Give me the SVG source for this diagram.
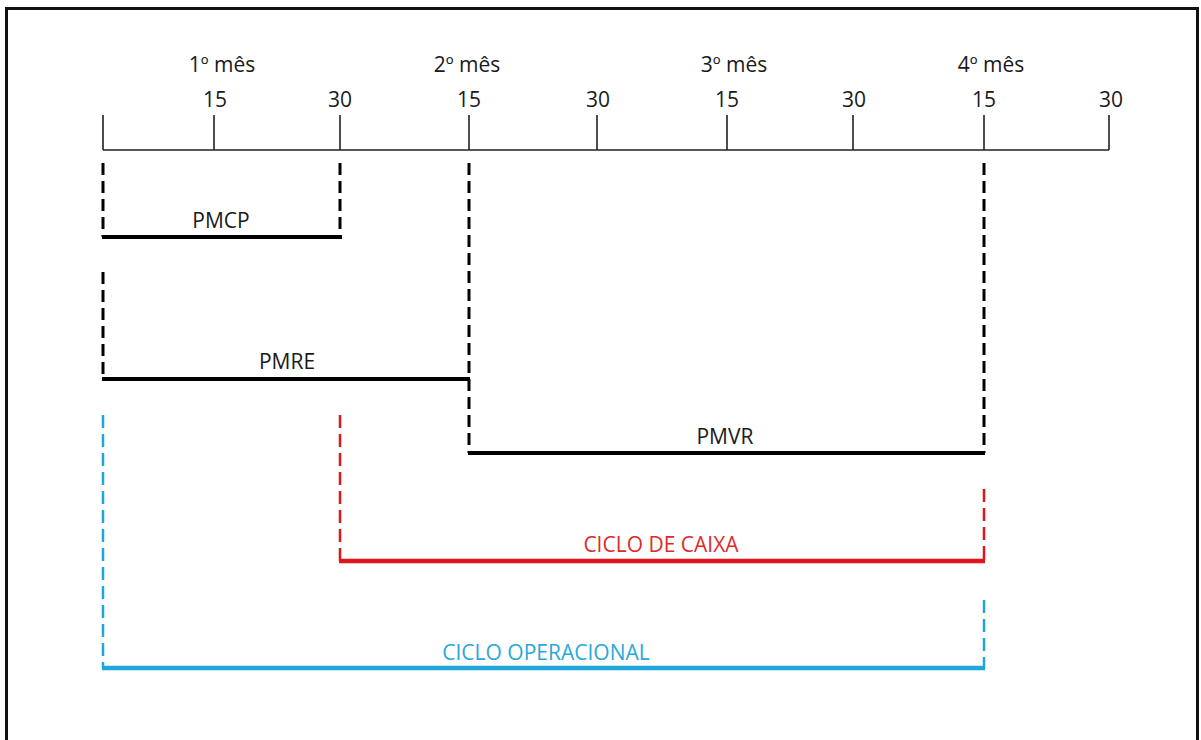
<svg xmlns="http://www.w3.org/2000/svg" width="1201" height="740" viewBox="0 0 1201 740">
<style>
text{font-family:"Open Sans","Liberation Sans",sans-serif;font-size:21px;fill:#1a1a1a;text-anchor:middle}
.tick{stroke:#222;stroke-width:1.6;fill:none}
.dk{stroke:#000;stroke-width:3;stroke-dasharray:12 6;fill:none}
.bar{stroke:#000;stroke-width:4;fill:none}
.rd{stroke:#e0141e;stroke-width:2.5;stroke-dasharray:13 6;fill:none}
.rbar{stroke:#e0141e;stroke-width:4.5;fill:none}
.bd{stroke:#1fa6da;stroke-width:2.5;stroke-dasharray:13 6;fill:none}
.bbar{stroke:#1fa6da;stroke-width:4.5;fill:none}
</style>
<rect x="0" y="0" width="1201" height="740" fill="#fff"/>
<rect x="6.5" y="8.5" width="1191" height="740" fill="none" stroke="#111" stroke-width="3"/>
<g id="axis">
<path class="tick" d="M103 150H1109M103 115V150M214 115V150M340 115V150M469 115V150M597 115V150M727 115V150M853 115V150M984 115V150M1109 115V150"/>
<text x="222" y="72">1º mês</text>
<text x="467" y="72">2º mês</text>
<text x="734" y="72">3º mês</text>
<text x="991" y="72">4º mês</text>
<text x="215" y="107">15</text>
<text x="340" y="107">30</text>
<text x="469" y="107">15</text>
<text x="598" y="107">30</text>
<text x="727" y="107">15</text>
<text x="854" y="107">30</text>
<text x="984" y="107">15</text>
<text x="1111" y="107">30</text>
</g>
<g id="connectors">
<path class="dk" d="M103 163V237M340 163V237"/>
<path class="dk" d="M103 272V378"/>
<path class="dk" d="M469 163V453M984 163V453"/>
<path class="rd" d="M340 415V561M984 489V561"/>
<path class="bd" d="M103 415V668M984 600V668"/>
</g>
<g id="pmcp">
<path class="bar" d="M102 237H342"/>
<text x="221" y="228">PMCP</text>
</g>
<g id="pmre">
<path class="bar" d="M102 379H470"/>
<text x="287" y="369">PMRE</text>
</g>
<g id="pmvr">
<path class="bar" d="M468 453H985"/>
<text x="725" y="444">PMVR</text>
</g>
<g id="ciclo-caixa">
<path class="rbar" d="M339 561H985"/>
<text x="661" y="552" style="fill:#e02a2a">CICLO DE CAIXA</text>
</g>
<g id="ciclo-operacional">
<path class="bbar" d="M102 668H985"/>
<text x="546" y="660" style="fill:#2aa8d8">CICLO OPERACIONAL</text>
</g>
</svg>
